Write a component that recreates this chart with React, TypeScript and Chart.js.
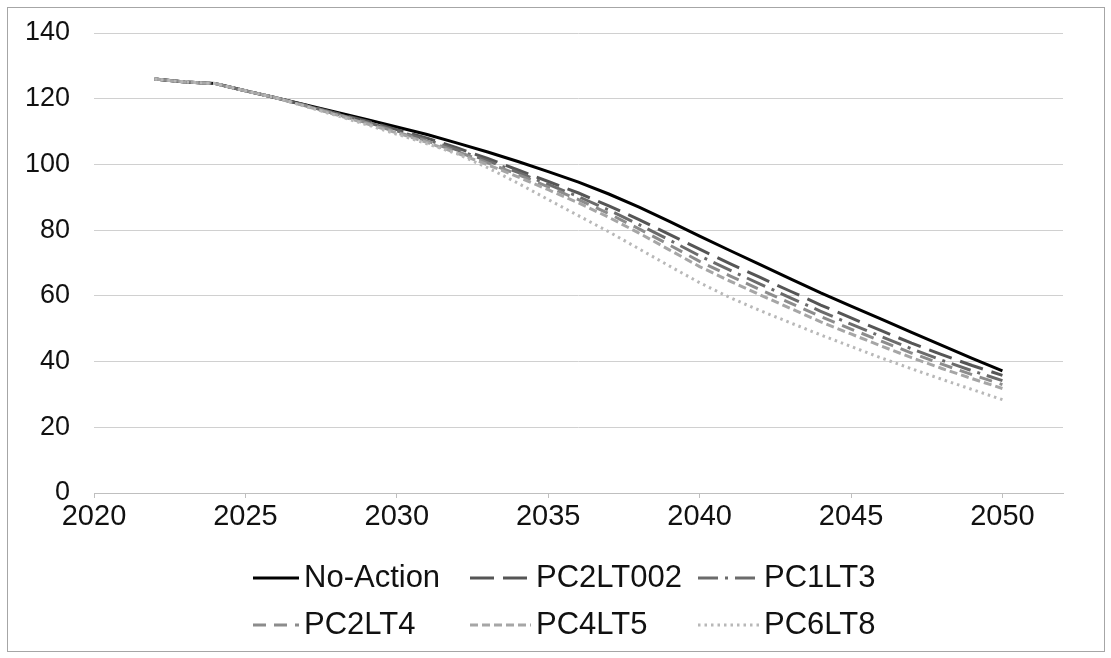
import React, { useEffect, useRef } from "react";
import { Chart, registerables } from "chart.js";

Chart.register(...registerables);

const YEARS = [
  2022, 2023, 2024, 2025, 2026, 2027, 2028, 2029, 2030, 2031, 2032, 2033, 2034, 2035, 2036,
  2037, 2038, 2039, 2040, 2041, 2042, 2043, 2044, 2045, 2046, 2047, 2048, 2049, 2050,
];

const NO_ACTION = [
  126.0, 125.1, 124.6, 122.4, 120.3, 118.1, 115.9, 113.7, 111.4, 109.1, 106.5, 103.8, 100.9, 97.8, 94.6,
  91.0, 87.0, 82.7, 78.2, 73.8, 69.5, 65.2, 60.9, 56.9, 52.9, 48.9, 44.9, 41.0, 37.2,
];
const PC2LT002 = [
  126.0, 125.1, 124.6, 122.4, 120.3, 118.0, 115.6, 113.2, 110.6, 108.0, 105.0, 101.8, 98.3, 94.8, 91.3,
  87.4, 83.2, 78.7, 74.2, 69.8, 65.6, 61.4, 57.2, 53.3, 49.4, 45.6, 42.1, 38.8, 35.8,
];
const PC1LT3 = [
  126.0, 125.1, 124.6, 122.4, 120.3, 117.9, 115.4, 112.9, 110.2, 107.5, 104.4, 101.1, 97.6, 93.9, 90.2,
  86.1, 81.7, 77.0, 72.2, 67.8, 63.6, 59.4, 55.3, 51.4, 47.6, 43.9, 40.4, 37.2, 34.2,
];
const PC2LT4 = [
  126.0, 125.1, 124.6, 122.4, 120.3, 117.8, 115.3, 112.7, 109.9, 107.1, 103.9, 100.5, 96.9, 93.2, 89.3,
  85.0, 80.4, 75.5, 70.5, 66.1, 61.9, 57.8, 53.7, 49.9, 46.2, 42.6, 39.2, 36.0, 33.0,
];
const PC4LT5 = [
  126.0, 125.1, 124.6, 122.4, 120.3, 117.7, 115.1, 112.4, 109.6, 106.7, 103.4, 99.9, 96.2, 92.3, 88.3,
  83.9, 79.1, 74.0, 68.9, 64.5, 60.3, 56.2, 52.1, 48.4, 44.7, 41.2, 37.9, 34.8, 31.8,
];
const PC6LT8 = [
  126.0, 125.1, 124.6, 122.4, 120.3, 117.6, 114.9, 112.1, 109.2, 106.3, 103.2, 99.0, 94.3, 89.3, 84.4,
  79.5, 74.3, 69.1, 64.0, 59.5, 55.5, 51.8, 48.1, 44.6, 41.1, 37.8, 34.6, 31.5, 28.4,
];

const SERIES_NAMES = ["No-Action", "PC2LT002", "PC1LT3", "PC2LT4", "PC4LT5", "PC6LT8"];
const SERIES_VALUES = [NO_ACTION, PC2LT002, PC1LT3, PC2LT4, PC4LT5, PC6LT8];

const Y_MIN = 0;
const Y_MAX = 140;
const Y_STEP = 20;
const X_MIN = 2020;
const X_MAX = 2052;
const X_STEP = 5;

const STYLES = [
  { color: "#000000", dash: [] as number[], width: 3 },
  { color: "#555555", dash: [24, 9], width: 3 },
  { color: "#6b6b6b", dash: [20, 7, 3, 7], width: 3 },
  { color: "#8c8c8c", dash: [13, 8], width: 3 },
  { color: "#a6a6a6", dash: [8, 4], width: 3 },
  { color: "#b8b8b8", dash: [2.5, 4], width: 3 },
];

const FONT_FAMILY = "'Liberation Sans', Arial, sans-serif";
const X_FONT_SIZE = 29;
const Y_FONT_SIZE = 27;
const LEGEND_FONT_SIZE = 31;

// legend layout (canvas px)
const LEGEND_SAMPLE_X = [245, 462, 690];
const LEGEND_TEXT_X = [296, 528, 756];
const LEGEND_ROW_Y = [570, 617];

const gridLegend = {
  id: "gridLegend",
  afterDraw(chart: any) {
    const ctx: CanvasRenderingContext2D = chart.ctx;
    ctx.save();
    chart.data.datasets.forEach((ds: any, i: number) => {
      const col = i % 3;
      const row = Math.floor(i / 3);
      const y = LEGEND_ROW_Y[row];
      ctx.strokeStyle = ds.borderColor;
      ctx.lineWidth = ds.borderWidth;
      ctx.setLineDash(ds.borderDash || []);
      ctx.beginPath();
      ctx.moveTo(LEGEND_SAMPLE_X[col], y);
      ctx.lineTo(LEGEND_TEXT_X[col] - 5, y);
      ctx.stroke();
      ctx.setLineDash([]);
      ctx.fillStyle = "#111111";
      ctx.font = `${LEGEND_FONT_SIZE}px ${FONT_FAMILY}`;
      ctx.textAlign = "left";
      ctx.textBaseline = "middle";
      ctx.fillText(ds.label, LEGEND_TEXT_X[col], y);
    });
    ctx.restore();
  },
};

export default function App() {
  const canvasRef = useRef<HTMLCanvasElement | null>(null);

  useEffect(() => {
    if (!canvasRef.current) return;
    const datasets = SERIES_NAMES.map((name, si) => ({
      label: name,
      data: YEARS.map((yr, i) => ({ x: yr, y: SERIES_VALUES[si][i] })),
      borderColor: STYLES[si].color,
      backgroundColor: STYLES[si].color,
      borderDash: STYLES[si].dash,
      borderWidth: STYLES[si].width,
      pointRadius: 0,
      tension: 0,
      fill: false,
      order: SERIES_NAMES.length - si,
    }));

    const chart = new Chart(canvasRef.current, {
      type: "line",
      data: { datasets },
      options: {
        animation: false,
        responsive: true,
        maintainAspectRatio: false,
        layout: { padding: { left: 0, right: 41, top: 25, bottom: 110 } },
        plugins: { legend: { display: false }, tooltip: { enabled: false } },
        scales: {
          x: {
            type: "linear",
            min: X_MIN,
            max: X_MAX,
            afterFit: (s: any) => {
              s.height = 48;
            },
            ticks: {
              stepSize: X_STEP,
              includeBounds: false,
              padding: 2,
              color: "#111111",
              font: { family: FONT_FAMILY, size: X_FONT_SIZE },
              callback: (v: any) => String(v),
              maxRotation: 0,
            },
            grid: {
              display: true,
              drawOnChartArea: false,
              drawTicks: true,
              tickLength: 5,
              color: "#bfbfbf",
            },
            border: { display: true, color: "#bfbfbf", width: 1 },
          },
          y: {
            min: Y_MIN,
            max: Y_MAX,
            afterFit: (s: any) => {
              s.width = 86;
              s.paddingTop = 0;
              s.paddingBottom = 0;
            },
            ticks: {
              stepSize: Y_STEP,
              padding: 24,
              color: "#111111",
              font: { family: FONT_FAMILY, size: Y_FONT_SIZE },
            },
            grid: { color: "#d0d0d0", lineWidth: 1, drawTicks: false },
            border: { display: false },
          },
        },
      },
      plugins: [gridLegend],
    });
    return () => chart.destroy();
  }, []);

  return (
    <div
      style={{
        position: "absolute",
        left: 7,
        top: 7,
        width: 1098,
        height: 645,
        boxSizing: "border-box",
        border: "1px solid #a6a6a6",
        background: "#ffffff",
      }}
    >
      <canvas ref={canvasRef} />
    </div>
  );
}
